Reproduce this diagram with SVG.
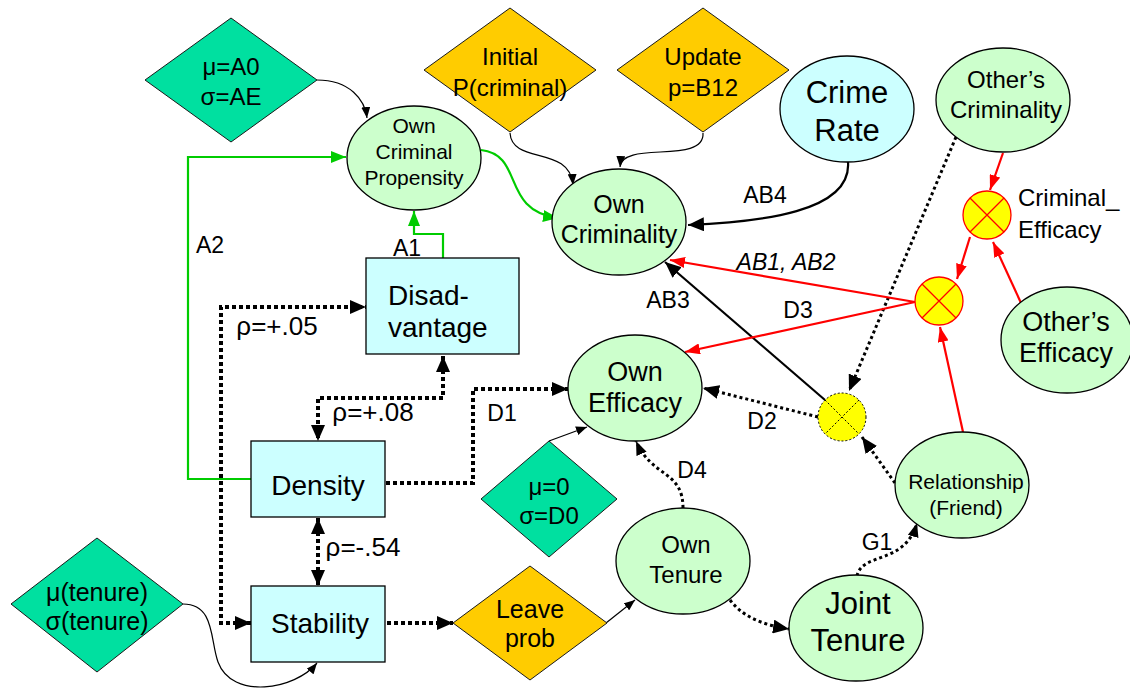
<svg xmlns="http://www.w3.org/2000/svg" width="1130" height="690" viewBox="0 0 1130 690">
<style>
text{font-family:"Liberation Sans",Arial,sans-serif;fill:#000;text-anchor:middle}
.ell{fill:#CCFFCC;stroke:#000;stroke-width:1.3}
.cyan{fill:#CCFFFF;stroke:#000;stroke-width:1.3}
.teal{fill:#00E0A0;stroke:#1a1a1a;stroke-width:1}
.orange{fill:#FFCC00;stroke:#1a1a1a;stroke-width:1}
.thin{fill:none;stroke:#000;stroke-width:1.2}
.heavy{fill:none;stroke:#000;stroke-width:4;stroke-dasharray:4 3}
.dot{fill:none;stroke:#000;stroke-width:3;stroke-dasharray:3 3}
.solid{fill:none;stroke:#000;stroke-width:2.2}
.red{fill:none;stroke:#FF0000;stroke-width:2.2}
.green{fill:none;stroke:#00CC00;stroke-width:2.2}
.lbl{font-size:23px}
.rho{font-size:26px}
</style>
<defs>
<marker id="ah" viewBox="0 0 16 14" refX="16" refY="7" markerWidth="16" markerHeight="14" orient="auto-start-reverse" markerUnits="userSpaceOnUse"><path d="M0,0 L16,7 L0,14 z" fill="#000"/></marker>
<marker id="as" viewBox="0 0 11 9" refX="11" refY="4.5" markerWidth="11" markerHeight="9" orient="auto" markerUnits="userSpaceOnUse"><path d="M0,0 L11,4.5 L0,9 z" fill="#000"/></marker>
<marker id="am" viewBox="0 0 14 11" refX="14" refY="5.5" markerWidth="14" markerHeight="11" orient="auto" markerUnits="userSpaceOnUse"><path d="M0,0 L14,5.5 L0,11 z" fill="#000"/></marker>
<marker id="ar" viewBox="0 0 15 11" refX="15" refY="5.5" markerWidth="15" markerHeight="11" orient="auto" markerUnits="userSpaceOnUse"><path d="M0,0 L15,5.5 L0,11 z" fill="#FF0000"/></marker>
<marker id="ag" viewBox="0 0 15 12" refX="15" refY="6" markerWidth="15" markerHeight="12" orient="auto" markerUnits="userSpaceOnUse"><path d="M0,0 L15,6 L0,12 z" fill="#00CC00"/></marker>
</defs>

<g id="connectors">
<path class="thin" d="M317,80 C350,80 365,100 367,118" marker-end="url(#as)"/>
<path class="thin" d="M510,133 C512,165 570,145 573,185" marker-end="url(#as)"/>
<path class="thin" d="M703,133 C705,165 622,140 620,167" marker-end="url(#as)"/>
<path class="solid" d="M848,162 C852,212 760,222 688,225" marker-end="url(#ah)"/>
<path class="green" d="M481,150 C525,155 500,210 558,218" marker-end="url(#ag)"/>
<path class="green" d="M251,479 H188 V157 H346" marker-end="url(#ag)"/>
<path class="green" d="M443,258 V234 H414 V211" marker-end="url(#ag)"/>
<path class="heavy" d="M251,623 H221 V307 H366" marker-start="url(#ah)" marker-end="url(#ah)"/>
<path class="heavy" d="M443,356 V398 H318 V441" marker-start="url(#ah)" marker-end="url(#ah)"/>
<path class="heavy" d="M379,483 H473 V389 H568" marker-end="url(#ah)"/>
<path class="heavy" d="M318,518 V586" marker-start="url(#ah)" marker-end="url(#ah)"/>
<path class="thin" d="M183,604 C215,604 210,640 218,662 C232,700 295,690 317,663" marker-end="url(#as)"/>
<path class="heavy" d="M387,623 H453" marker-end="url(#ah)"/>
<path class="thin" d="M606,623 L635,600" marker-end="url(#as)"/>
<path class="thin" d="M549,441 L587,427" marker-end="url(#as)"/>
<path class="dot" d="M683,508 C683,470 652,478 636,441" marker-end="url(#am)"/>
<path class="dot" d="M730,600 C745,620 770,626 789,629" marker-end="url(#ah)"/>
<path class="dot" d="M857,576 C862,552 905,565 917,523" marker-end="url(#am)"/>
<path class="dot" d="M895,483 L862,437" marker-end="url(#ah)"/>
<path class="dot" d="M956,137 L849,391" marker-end="url(#ah)"/>
<path class="dot" d="M818,417 L703,388" marker-end="url(#ah)"/>
<path class="solid" d="M825,400 L665,262" marker-end="url(#ah)"/>
<path class="red" d="M915,302 L670,260" marker-end="url(#ar)"/>
<path class="red" d="M915,302 L685,352" marker-end="url(#ar)"/>
<path class="red" d="M963,432 L940,327" marker-end="url(#ar)"/>
<path class="red" d="M1021,303 L993,242" marker-end="url(#ar)"/>
<path class="red" d="M1003,153 L990,190" marker-end="url(#ar)"/>
<path class="red" d="M970,237 L957,279" marker-end="url(#ar)"/>
</g>

<g id="n-muA0"><polygon class="teal" points="231,18 317,80 231,142 145,80"/><text x="231" y="75" font-size="24">μ=A0</text><text x="231" y="105" font-size="24">σ=AE</text></g>
<g id="n-initial"><polygon class="orange" points="510,8 596,70 510,132 424,70"/><text x="510" y="65" font-size="24">Initial</text><text x="510" y="96" font-size="24">P(criminal)</text></g>
<g id="n-update"><polygon class="orange" points="703,8 789,70 703,132 617,70"/><text x="703" y="65" font-size="24">Update</text><text x="703" y="96" font-size="24">p=B12</text></g>
<g id="n-crimerate"><ellipse class="cyan" cx="847" cy="109" rx="67" ry="53"/><text x="847" y="103" font-size="31">Crime</text><text x="847" y="141" font-size="31">Rate</text></g>
<g id="n-otherscrim"><ellipse class="ell" cx="1003" cy="100" rx="67" ry="52"/><text x="1006" y="88" font-size="24">Other’s</text><text x="1006" y="118" font-size="24">Criminality</text></g>
<g id="n-ocp"><ellipse class="ell" cx="414" cy="158" rx="67" ry="52"/><text x="414" y="133" font-size="21">Own</text><text x="414" y="159" font-size="21">Criminal</text><text x="414" y="185" font-size="21">Propensity</text></g>
<g id="n-owncrim"><ellipse class="ell" cx="619" cy="222" rx="67" ry="53"/><text x="619" y="213" font-size="25">Own</text><text x="619" y="243" font-size="25">Criminality</text></g>
<g id="n-disadv"><rect class="cyan" x="366" y="258" width="153" height="96"/><text x="388" y="305" font-size="28" style="text-anchor:start">Disad-</text><text x="388" y="337" font-size="28" style="text-anchor:start">vantage</text></g>
<g id="n-density"><rect class="cyan" x="251" y="441" width="134" height="76"/><text x="318" y="495" font-size="28">Density</text></g>
<g id="n-stability"><rect class="cyan" x="251" y="586" width="134" height="76"/><text x="320" y="633" font-size="28">Stability</text></g>
<g id="n-ownefficacy"><ellipse class="ell" cx="635" cy="388" rx="67" ry="53"/><text x="635" y="381" font-size="27">Own</text><text x="635" y="412" font-size="27">Efficacy</text></g>
<g id="n-mu0"><polygon class="teal" points="549,441 617,499 549,557 481,499"/><text x="549" y="495" font-size="24">μ=0</text><text x="549" y="524" font-size="24">σ=D0</text></g>
<g id="n-mutenure"><polygon class="teal" points="97,538 183,604 97,672 11,604"/><text x="97" y="601" font-size="25">μ(tenure)</text><text x="97" y="630" font-size="25">σ(tenure)</text></g>
<g id="n-leave"><polygon class="orange" points="530,566 607,623 530,680 453,623"/><text x="530" y="618" font-size="25">Leave</text><text x="530" y="647" font-size="25">prob</text></g>
<g id="n-owntenure"><ellipse class="ell" cx="683" cy="561" rx="67" ry="53"/><text x="686" y="553" font-size="24">Own</text><text x="686" y="583" font-size="24">Tenure</text></g>
<g id="n-jointtenure"><ellipse class="ell" cx="856" cy="628" rx="67" ry="53"/><text x="858" y="614" font-size="31">Joint</text><text x="858" y="651" font-size="31">Tenure</text></g>
<g id="n-relationship"><ellipse class="ell" cx="962" cy="485" rx="67" ry="53"/><text x="966" y="489" font-size="21">Relationship</text><text x="966" y="515" font-size="21">(Friend)</text></g>
<g id="n-othersefficacy"><ellipse class="ell" cx="1067" cy="340" rx="66" ry="53"/><text x="1066" y="331" font-size="27">Other’s</text><text x="1066" y="362" font-size="27">Efficacy</text></g>
<g id="n-crimeff"><circle cx="987" cy="215" r="24" fill="#FFFF00" stroke="#FF0000" stroke-width="1.3"/><path d="M970,198 L1004,232 M1004,198 L970,232" stroke="#FF0000" stroke-width="1.3"/><text x="1018" y="206" font-size="24" style="text-anchor:start">Criminal_</text><text x="1018" y="238" font-size="24" style="text-anchor:start">Efficacy</text></g>
<g id="n-redx"><circle cx="939" cy="301" r="24" fill="#FFFF00" stroke="#FF0000" stroke-width="1.3"/><path d="M922,284 L956,318 M956,284 L922,318" stroke="#FF0000" stroke-width="1.3"/></g>
<g id="n-dotx"><circle cx="842" cy="417" r="24" fill="#FFFF00" stroke="#000" stroke-width="1" stroke-dasharray="2 2"/><path d="M825,400 L859,434 M859,400 L825,434" stroke="#000" stroke-width="1" stroke-dasharray="2 2"/></g>

<g id="labels">
<text class="lbl" x="210" y="253">A2</text>
<text class="lbl" x="407" y="256">A1</text>
<text class="lbl" x="765" y="203">AB4</text>
<text class="lbl" x="786" y="270" font-style="italic">AB1, AB2</text>
<text class="lbl" x="668" y="308">AB3</text>
<text class="lbl" x="798" y="318">D3</text>
<text class="lbl" x="762" y="429">D2</text>
<text class="lbl" x="502" y="421">D1</text>
<text class="lbl" x="692" y="478">D4</text>
<text class="lbl" x="877" y="550">G1</text>
<text class="rho" x="277" y="335">ρ=+.05</text>
<text class="rho" x="373" y="421">ρ=+.08</text>
<text class="rho" x="363" y="556">ρ=-.54</text>
</g>
</svg>
